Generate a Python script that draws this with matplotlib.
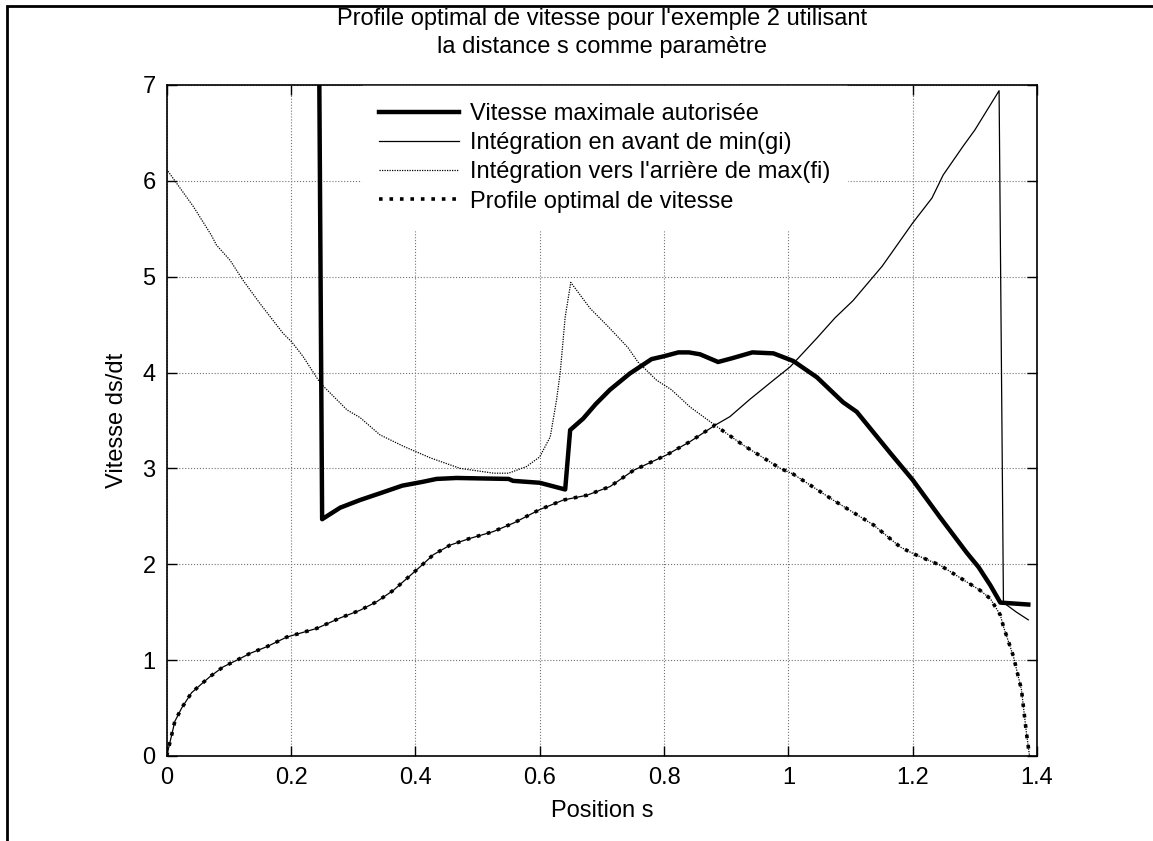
import matplotlib
matplotlib.use('Agg')
import matplotlib.pyplot as plt
from matplotlib.patches import Rectangle

plt.rcParams['font.family'] = ['Liberation Sans', 'DejaVu Sans']

# vitesse maximale autorisee
vmax_s = [0.2445, 0.25, 0.279, 0.311, 0.343, 0.379, 0.412, 0.434, 0.466, 0.55, 0.557, 0.60, 0.641,
          0.649, 0.67, 0.69, 0.713, 0.745, 0.78, 0.80, 0.823, 0.84, 0.858, 0.887, 0.91, 0.942, 0.976,
          1.008, 1.046, 1.088, 1.11, 1.164, 1.20, 1.244, 1.287, 1.306, 1.325, 1.341, 1.386]
vmax_v = [8.0, 2.47, 2.59, 2.67, 2.74, 2.82, 2.86, 2.89, 2.90, 2.89, 2.87, 2.85, 2.78,
          3.40, 3.52, 3.67, 3.82, 3.99, 4.14, 4.17, 4.21, 4.21, 4.19, 4.11, 4.15, 4.21, 4.20,
          4.12, 3.95, 3.69, 3.59, 3.16, 2.88, 2.49, 2.12, 1.97, 1.78, 1.60, 1.58]

# integration en avant de min(gi)
fwd_s = [0.0, 0.008, 0.013, 0.024, 0.04, 0.054, 0.07, 0.091, 0.113, 0.134, 0.161, 0.193, 0.225,
         0.241, 0.279, 0.311, 0.338, 0.365, 0.386, 0.407, 0.429, 0.456, 0.488, 0.525, 0.558, 0.60,
         0.638, 0.676, 0.713, 0.751, 0.804, 0.842, 0.882, 0.906, 0.938, 0.976, 1.003, 1.046, 1.075,
         1.104, 1.151, 1.20, 1.231, 1.249, 1.281, 1.30, 1.339, 1.346, 1.367, 1.386]
fwd_v = [0.0, 0.22, 0.36, 0.50, 0.66, 0.74, 0.83, 0.93, 1.00, 1.07, 1.14, 1.24, 1.30,
         1.33, 1.44, 1.52, 1.61, 1.73, 1.85, 1.97, 2.10, 2.20, 2.27, 2.34, 2.43, 2.57,
         2.67, 2.72, 2.81, 2.98, 3.14, 3.28, 3.45, 3.54, 3.72, 3.92, 4.06, 4.36, 4.57,
         4.75, 5.11, 5.56, 5.82, 6.06, 6.36, 6.53, 6.94, 1.60, 1.50, 1.42]

# integration vers l'arriere de max(fi)
bwd_s = [0.002, 0.043, 0.072, 0.08, 0.102, 0.123, 0.15, 0.187, 0.201, 0.219, 0.247, 0.29, 0.311,
         0.343, 0.381, 0.424, 0.472, 0.526, 0.55, 0.579, 0.60, 0.617, 0.627, 0.633, 0.641, 0.65,
         0.681, 0.71, 0.742, 0.758, 0.788, 0.812, 0.842, 0.882, 0.928, 0.987, 1.008, 1.072, 1.137,
         1.18, 1.201, 1.244, 1.308, 1.325, 1.341, 1.346, 1.362, 1.375, 1.383, 1.388]
bwd_v = [6.10, 5.73, 5.43, 5.33, 5.17, 4.96, 4.72, 4.41, 4.32, 4.17, 3.89, 3.61, 3.53,
         3.35, 3.23, 3.11, 3.00, 2.95, 2.95, 3.02, 3.12, 3.33, 3.71, 4.00, 4.58, 4.94,
         4.67, 4.48, 4.26, 4.11, 3.92, 3.82, 3.64, 3.45, 3.24, 3.00, 2.94, 2.67, 2.41,
         2.18, 2.11, 1.99, 1.73, 1.64, 1.47, 1.35, 1.04, 0.69, 0.24, 0.0]

# profile optimal = min des deux integrations
opt_s = [0.0, 0.008, 0.013, 0.024, 0.04, 0.054, 0.07, 0.091, 0.113, 0.134, 0.161, 0.193, 0.225,
         0.241, 0.279, 0.311, 0.338, 0.365, 0.386, 0.407, 0.429, 0.456, 0.488, 0.525, 0.558, 0.60,
         0.638, 0.676, 0.713, 0.751, 0.804, 0.842, 0.882, 0.928, 0.987, 1.008, 1.072, 1.137,
         1.18, 1.201, 1.244, 1.308, 1.325, 1.341, 1.346, 1.362, 1.375, 1.383, 1.388]
opt_v = [0.0, 0.22, 0.36, 0.50, 0.66, 0.74, 0.83, 0.93, 1.00, 1.07, 1.14, 1.24, 1.30,
         1.33, 1.44, 1.52, 1.61, 1.73, 1.85, 1.97, 2.10, 2.20, 2.27, 2.34, 2.43, 2.57,
         2.67, 2.72, 2.81, 2.98, 3.14, 3.28, 3.45, 3.24, 3.00, 2.94, 2.67, 2.41,
         2.18, 2.11, 1.99, 1.73, 1.64, 1.47, 1.35, 1.04, 0.69, 0.24, 0.0]

x_ticks = [0, 0.2, 0.4, 0.6, 0.8, 1, 1.2, 1.4]
x_ticklabels = ['0', '0.2', '0.4', '0.6', '0.8', '1', '1.2', '1.4']
y_ticks = [0, 1, 2, 3, 4, 5, 6, 7]

fs = 17
fig = plt.figure(figsize=(11.53, 8.41), dpi=100)
ax = fig.add_axes([0.1446, 0.1011, 0.7548, 0.7979])

ax.plot(vmax_s, vmax_v, color='k', lw=3.2, label='Vitesse maximale autorisée', zorder=4)
ax.plot(fwd_s, fwd_v, color='k', lw=0.9, label='Intégration en avant de min(gi)', zorder=3)
ax.plot(bwd_s, bwd_v, color='k', lw=0.9, ls=(0, (1, 1)), label="Intégration vers l'arrière de max(fi)", zorder=3)
ax.plot(opt_s, opt_v, color='k', lw=2.6, ls=(0, (1, 1.9)), label='Profile optimal de vitesse', zorder=5)

ax.set_xlim(0, 1.4)
ax.set_ylim(0, 7)
ax.set_xticks(x_ticks)
ax.set_xticklabels(x_ticklabels)
ax.set_yticks(y_ticks)
ax.tick_params(direction='in', length=7, width=1, labelsize=fs, top=True, right=True, pad=8)
ax.grid(True, ls=':', lw=0.8, color='0.45')
for sp in ax.spines.values():
    sp.set_linewidth(1.2)

ax.set_xlabel('Position s', fontsize=fs, labelpad=8)
ax.set_ylabel('Vitesse ds/dt', fontsize=fs, labelpad=10)
ax.set_title("Profile optimal de vitesse pour l'exemple 2 utilisant\nla distance s comme paramètre",
             fontsize=fs, pad=23, linespacing=1.38)

leg = ax.legend(loc='upper left', bbox_to_anchor=(0.2244, 0.998), fontsize=fs, frameon=True,
                fancybox=False, edgecolor='white', facecolor='white', framealpha=1,
                handlelength=3.4, handletextpad=0.45, labelspacing=0.3, borderpad=0.72,
                borderaxespad=0)
leg.set_zorder(6)

# cadre de la figure
fig.add_artist(Rectangle((7 / 1153, -0.1), 1.2, 1.1 - 6 / 841, transform=fig.transFigure,
                         fill=False, lw=2, edgecolor='k'))

fig.savefig('out.png', dpi=100)
